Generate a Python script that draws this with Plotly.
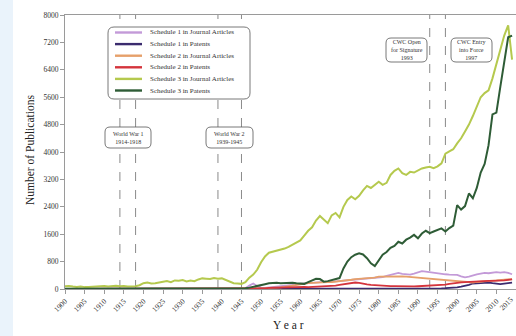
import plotly.graph_objects as go

# ---- data: publications per year, 1900-2014 ----
years = list(range(1900, 2015))

sched1_journal = [
    0, 0, 0, 0, 0, 0, 0, 0, 0, 0,
    0, 0, 0, 0, 0, 0, 0, 0, 0, 0,
    0, 0, 0, 0, 0, 0, 0, 0, 0, 0,
    0, 0, 0, 0, 0, 0, 0, 0, 0, 0,
    0, 0, 0, 0, 0, 0, 20, 100, 160, 90,
    40, 30, 40, 50, 60, 80, 90, 100, 120, 140,
    150, 160, 170, 190, 200, 200, 210, 200, 210, 220,
    220, 230, 250, 260, 270, 280, 290, 300, 310, 320,
    330, 350, 380, 410, 440, 470, 440, 430, 420, 450,
    490, 520, 510, 490, 480, 450, 430, 430, 420, 420,
    410, 370, 340, 360, 400, 430, 450, 470, 460, 480,
    490, 480, 490, 470, 430,
]

sched1_patents = [
    0, 0, 0, 0, 0, 0, 0, 0, 0, 0,
    0, 0, 0, 0, 0, 0, 0, 0, 0, 0,
    0, 0, 0, 0, 0, 0, 0, 0, 0, 0,
    0, 0, 0, 0, 0, 0, 0, 0, 0, 0,
    0, 0, 0, 0, 0, 0, 0, 0, 0, 0,
    0, 0, 0, 0, 0, 0, 0, 0, 0, 0,
    0, 0, 0, 0, 0, 0, 0, 0, 0, 0,
    0, 0, 0, 0, 0, 0, 0, 0, 0, 0,
    0, 0, 0, 0, 0, 10, 10, 15, 10, 15,
    15, 10, 15, 15, 20, 15, 20, 25, 30, 40,
    50, 70, 90, 120, 160, 170, 180, 180, 185, 170,
    160, 145, 160, 180, 185,
]

sched2_journal = [
    0, 0, 0, 0, 0, 0, 0, 0, 0, 0,
    0, 0, 0, 0, 0, 0, 0, 0, 0, 0,
    0, 0, 0, 0, 0, 0, 0, 0, 0, 0,
    0, 0, 0, 0, 0, 0, 0, 0, 0, 0,
    0, 0, 0, 0, 0, 0, 0, 10, 10, 20,
    20, 20, 30, 30, 40, 50, 60, 80, 100, 130,
    150, 160, 170, 180, 190, 200, 195, 200, 200, 210,
    220, 235, 250, 270, 290, 300, 310, 310, 310, 330,
    360, 365, 370, 370, 370, 370, 370, 360, 350, 335,
    320, 300, 290, 285, 280, 265, 250, 240, 230, 220,
    215, 210, 200, 195, 190, 205, 220, 230, 240, 245,
    250, 255, 260, 275, 290,
]

sched2_patents = [
    0, 0, 0, 0, 0, 0, 0, 0, 0, 0,
    0, 0, 0, 0, 0, 0, 0, 0, 0, 0,
    0, 0, 0, 0, 0, 0, 0, 0, 0, 0,
    0, 0, 0, 0, 0, 0, 0, 0, 0, 0,
    0, 0, 0, 0, 0, 0, 0, 0, 0, 0,
    0, 20, 30, 35, 40, 40, 45, 50, 50, 55,
    55, 60, 55, 60, 60, 60, 70, 80, 90, 100,
    120, 135, 150, 170, 190, 180, 150, 135, 120, 110,
    100, 95, 90, 85, 85, 80, 75, 75, 70, 75,
    80, 85, 90, 95, 100, 110, 120, 130, 150, 170,
    190, 195, 200, 210, 215, 220, 230, 235, 240, 240,
    240, 245, 250, 265, 280,
]

sched3_journal = [
    80, 90, 70, 60, 75, 55, 60, 70, 65, 80,
    85, 70, 90, 95, 80, 90, 75, 70, 80, 110,
    170, 190, 160, 170, 200, 210, 230, 200, 250, 240,
    260, 220, 250, 230, 280, 310, 300, 290, 320, 300,
    310, 260, 220, 170, 160, 150, 200, 330, 420, 560,
    780, 950, 1060, 1090, 1110, 1140, 1180, 1230, 1290, 1360,
    1420, 1560, 1700, 1800, 2000, 2130, 2020, 1920, 2150, 2220,
    2090, 2400, 2600, 2700, 2620, 2720, 2880, 3010, 2950, 3050,
    3130, 3040, 3100, 3330, 3450, 3520, 3380, 3330, 3420, 3400,
    3460, 3520, 3550, 3570, 3530, 3580, 3670, 3950, 4020, 4080,
    4250, 4400, 4600, 4800, 5050, 5300, 5600, 5720, 5800, 6150,
    6550, 6950, 7400, 7700, 6700,
]

sched3_patents = [
    10, 10, 10, 10, 10, 10, 10, 10, 10, 10,
    10, 10, 10, 10, 10, 10, 10, 10, 10, 10,
    10, 10, 10, 10, 10, 10, 10, 10, 10, 10,
    10, 10, 10, 10, 10, 10, 10, 10, 10, 10,
    10, 10, 10, 10, 10, 10, 20, 40, 60, 90,
    110, 140, 165, 175, 185, 170, 180, 190, 185, 170,
    160, 150, 200, 260, 300, 290, 215, 230, 260, 280,
    320, 600, 800, 930, 1000, 1040, 1010, 900, 750, 670,
    850, 1000, 1080, 1200, 1260, 1380, 1330, 1440, 1500, 1580,
    1480, 1620, 1700, 1630, 1680, 1720, 1770, 1680, 1780, 1850,
    2450, 2320, 2420, 2790, 2650, 2950, 3400, 3650, 4200, 5100,
    5150, 5900, 6700, 7350, 7400,
]

series_names = [
    "Schedule 1 in Journal Articles",
    "Schedule 1 in Patents",
    "Schedule 2 in Journal Articles",
    "Schedule 2 in Patents",
    "Schedule 3 in Journal Articles",
    "Schedule 3 in Patents",
]
series_values = [sched1_journal, sched1_patents, sched2_journal,
                 sched2_patents, sched3_journal, sched3_patents]
series_colors = ["#c39ad8", "#3b2b6e", "#e6a06a", "#d4343c", "#b5c94e", "#2e5c36"]
series_widths = [1.8, 1.8, 1.8, 1.8, 2.0, 2.0]

# historical markers: (years spanned, label)
events = [
    ((1914, 1918), "World War 1<br>1914-1918"),
    ((1939, 1945), "World War 2<br>1939-1945"),
    ((1993,), "CWC Open<br>for Signature<br>1993"),
    ((1997,), "CWC Entry<br>into Force<br>1997"),
]

x_ticks = list(range(1900, 2016, 5))
y_ticks = list(range(0, 8001, 800))
last_tick = x_ticks[-1]

# ---- layout geometry (pixels) ----
W, H = 516, 336
ML, MR, MT, MB = 65, 0, 15, 47
PW, PH = W - ML - MR, H - MT - MB
SERIF = "Liberation Serif, DejaVu Serif, serif"


def px_x(px):
    return (px - ML) / PW


def px_y(py):
    return (H - MB - py) / PH


def rounded_box(x0, y0, x1, y1, r=6):
    """Rounded rectangle path in paper coordinates from pixel corners."""
    X0, X1 = px_x(x0), px_x(x1)
    Y0, Y1 = px_y(y0), px_y(y1)  # Y0 is top
    rx, ry = r / PW, r / PH
    return (f"M {X0+rx},{Y0} L {X1-rx},{Y0} Q {X1},{Y0} {X1},{Y0-ry} "
            f"L {X1},{Y1+ry} Q {X1},{Y1} {X1-rx},{Y1} "
            f"L {X0+rx},{Y1} Q {X0},{Y1} {X0},{Y1+ry} "
            f"L {X0},{Y0-ry} Q {X0},{Y0} {X0+rx},{Y0} Z")


fig = go.Figure()
for name, vals, col, w in zip(series_names, series_values, series_colors, series_widths):
    fig.add_trace(go.Scatter(x=years, y=vals, mode="lines", name=name,
                             line=dict(color=col, width=w), showlegend=False))

shapes = []
annotations = []

# light blue strip down the left edge
shapes.append(dict(type="rect", xref="paper", yref="paper",
                   x0=px_x(0), x1=px_x(13), y0=px_y(H), y1=px_y(0),
                   fillcolor="#eaf3fb", line=dict(width=0), layer="below"))

# dashed event lines
for yrs, _ in events:
    for yr in yrs:
        shapes.append(dict(type="line", xref="x", yref="paper", x0=yr, x1=yr,
                           y0=0, y1=1, line=dict(color="#8a8a8a", width=1, dash="dash"),
                           layer="below"))

# event label boxes (pixel boxes)
event_boxes = [(105, 127, 151, 148), (206, 127, 253, 148),
               (386, 38, 427, 62), (451, 38, 492, 62)]
for (yrs, label), (bx0, by0, bx1, by1) in zip(events, event_boxes):
    shapes.append(dict(type="path", xref="paper", yref="paper",
                       path=rounded_box(bx0, by0, bx1, by1, 5),
                       fillcolor="white", line=dict(color="#555", width=0.8),
                       layer="above"))
    annotations.append(dict(xref="paper", yref="paper",
                            x=px_x((bx0 + bx1) / 2), y=px_y((by0 + by1) / 2),
                            text=label, showarrow=False,
                            font=dict(family=SERIF, size=6, color="#333"),
                            xanchor="center", yanchor="middle"))

# legend box
lx0, ly0, lx1, ly1 = 108, 27, 250, 99
shapes.append(dict(type="path", xref="paper", yref="paper",
                   path=rounded_box(lx0, ly0, lx1, ly1, 6),
                   fillcolor="white", line=dict(color="#555", width=0.8),
                   layer="above"))
for i, (name, col) in enumerate(zip(series_names, series_colors)):
    ry = 32.5 + i * 11.6
    shapes.append(dict(type="line", xref="paper", yref="paper",
                       x0=px_x(115), x1=px_x(142), y0=px_y(ry), y1=px_y(ry),
                       line=dict(color=col, width=2.4), layer="above"))
    annotations.append(dict(xref="paper", yref="paper", x=px_x(148), y=px_y(ry),
                            text=name, showarrow=False, xanchor="left",
                            yanchor="middle",
                            font=dict(family=SERIF, size=7, color="#333")))

# last year label runs off the right edge of the page
annotations.append(dict(xref="x", yref="paper", x=last_tick, y=px_y(292.5),
                        text=str(last_tick), textangle=-45, showarrow=False,
                        xanchor="right", yanchor="top", xshift=2,
                        font=dict(family=SERIF, size=7.5, color="#333")))

# axis titles
annotations.append(dict(xref="paper", yref="paper", x=px_x(30), y=px_y(150),
                        text="Number of Publications", textangle=-90,
                        showarrow=False, xanchor="center", yanchor="middle",
                        font=dict(family=SERIF, size=11.5, color="#222")))
annotations.append(dict(xref="paper", yref="paper", x=px_x(288), y=px_y(325),
                        text="Y e a r", showarrow=False, xanchor="center",
                        yanchor="middle",
                        font=dict(family=SERIF, size=11.5, color="#222")))

fig.update_layout(
    width=W, height=H,
    margin=dict(l=ML, r=MR, t=MT, b=MB, pad=0),
    paper_bgcolor="white", plot_bgcolor="white",
    shapes=shapes, annotations=annotations, showlegend=False,
    xaxis=dict(range=[1900, 2015], tickvals=x_ticks[:-1], tickangle=-45,
               showgrid=False, zeroline=False, showline=True, linecolor="#9a9a9a",
               linewidth=1, mirror=True, ticks="outside", ticklen=4,
               tickcolor="#9a9a9a",
               tickfont=dict(family=SERIF, size=7.5, color="#333")),
    yaxis=dict(range=[0, 8000], tickvals=y_ticks,
               showgrid=False, zeroline=False, showline=True, linecolor="#9a9a9a",
               linewidth=1, ticks="outside", ticklen=4, tickcolor="#9a9a9a",
               tickfont=dict(family=SERIF, size=7.5, color="#333")),
)

fig.write_html("out.html")
